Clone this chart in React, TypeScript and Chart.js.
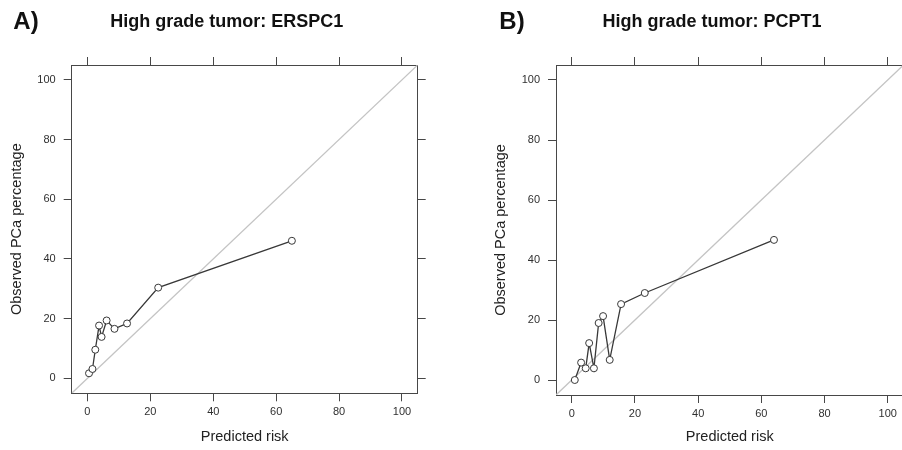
import React, { useEffect, useRef } from "react";
import { Chart, registerables } from "chart.js";

Chart.register(...registerables);

// ---------- data ----------
const tickValues = [0, 20, 40, 60, 80, 100];
const axisLimits = [-5, 105];
const diagonalValues = [-5, 105];

const titleA = "High grade tumor: ERSPC1";
const tagA = "A)";
const riskA = [0.5, 1.6, 2.5, 3.7, 4.5, 6.1, 8.6, 12.6, 22.5, 65.0];
const observedA = [1.7, 3.15, 9.6, 17.7, 13.9, 19.4, 16.6, 18.4, 30.4, 46.1];

const titleB = "High grade tumor: PCPT1";
const tagB = "B)";
const riskB = [0.95, 2.95, 4.4, 5.5, 7.0, 8.5, 9.9, 12.0, 15.6, 23.1, 64.0];
const observedB = [0.0, 5.8, 3.9, 12.3, 3.9, 19.0, 21.3, 6.7, 25.3, 29.0, 46.7];

const xAxisTitle = "Predicted risk";
const yAxisTitle = "Observed PCa percentage";

// ---------- styling ----------
const FONT = '"Liberation Sans", Arial, Helvetica, sans-serif';
const AXIS_COLOR = "#474747";
const TEXT_COLOR = "#303030";
const LINE_COLOR = "#383838";
const DIAG_COLOR = "#c4c4c4";

type Layout = {
  left: number;
  width: number;
  height: number;
  yWidth: number;
  y2Width: number;
  topHeight: number;
  bottomHeight: number;
  yTitlePad: number;
  tagX: number;
  titleX: number;
  textY: number;
};

const layoutA: Layout = {
  left: 0,
  width: 451,
  height: 450,
  yWidth: 71.7,
  y2Width: 33.3,
  topHeight: 65,
  bottomHeight: 56.7,
  yTitlePad: 8.3,
  tagX: 13.3,
  titleX: 226.7,
  textY: 22.5,
};

const layoutB: Layout = {
  left: 451,
  width: 500,
  height: 450,
  yWidth: 105,
  y2Width: 47.5,
  topHeight: 65,
  bottomHeight: 55,
  yTitlePad: 41.3,
  tagX: 48.3,
  titleX: 261,
  textY: 22.5,
};

const panelTextPlugin = {
  id: "panelText",
  afterDraw(chart: any, _args: any, opts: any) {
    const ctx = chart.ctx;
    ctx.save();
    ctx.fillStyle = "#111";
    ctx.textBaseline = "middle";
    ctx.textAlign = "left";
    ctx.font = `bold 24px ${FONT}`;
    ctx.fillText(opts.tag, opts.tagX, opts.textY);
    ctx.textAlign = "center";
    ctx.font = `bold 18px ${FONT}`;
    ctx.fillText(opts.title, opts.titleX, opts.textY);
    ctx.restore();
  },
};

function setTicks(scale: any) {
  scale.ticks = tickValues.map((v) => ({ value: v }));
}

function makeScale(
  position: string,
  axis: string,
  showLabels: boolean,
  size: number,
  title: any
) {
  const horizontal = position === "top" || position === "bottom";
  return {
    type: "linear",
    axis,
    position,
    min: axisLimits[0],
    max: axisLimits[1],
    afterBuildTicks: setTicks,
    afterFit: (s: any) => {
      if (horizontal) s.height = size;
      else s.width = size;
    },
    ticks: {
      display: showLabels,
      font: { family: FONT, size: 11 },
      color: TEXT_COLOR,
      padding: horizontal ? 4 : 8,
      maxRotation: 0,
      minRotation: 0,
      autoSkip: false,
    },
    grid: {
      display: true,
      drawOnChartArea: false,
      drawTicks: true,
      tickLength: 8,
      color: AXIS_COLOR,
      tickColor: AXIS_COLOR,
      lineWidth: 1,
    },
    border: { display: true, color: AXIS_COLOR, width: 1 },
    title: title || { display: false },
  };
}

function Panel(props: {
  layout: Layout;
  title: string;
  tag: string;
  risk: number[];
  observed: number[];
}) {
  const ref = useRef<HTMLCanvasElement | null>(null);
  const { layout, title, tag, risk, observed } = props;

  useEffect(() => {
    if (!ref.current) return;
    const points = risk.map((r, i) => ({ x: r, y: observed[i] }));
    const diag = diagonalValues.map((v) => ({ x: v, y: v }));
    const chart = new Chart(ref.current, {
      type: "scatter",
      data: {
        datasets: [
          {
            data: points,
            showLine: true,
            borderColor: LINE_COLOR,
            borderWidth: 1.3,
            pointRadius: 3.5,
            pointBorderWidth: 1,
            pointBorderColor: LINE_COLOR,
            pointBackgroundColor: "#ffffff",
            pointStyle: "circle",
            order: 0,
          },
          {
            data: diag,
            showLine: true,
            borderColor: DIAG_COLOR,
            borderWidth: 1.3,
            pointRadius: 0,
            order: 1,
          },
        ],
      } as any,
      options: {
        animation: false,
        responsive: false,
        maintainAspectRatio: false,
        layout: { padding: 0 },
        events: [],
        plugins: {
          legend: { display: false },
          tooltip: { enabled: false },
          title: { display: false },
          panelText: {
            tag,
            title,
            tagX: layout.tagX,
            titleX: layout.titleX,
            textY: layout.textY,
          },
        } as any,
        scales: {
          x: makeScale("bottom", "x", true, layout.bottomHeight, {
            display: true,
            text: xAxisTitle,
            color: "#222",
            font: { family: FONT, size: 14.5 },
            padding: { top: 0, bottom: 4 },
          }),
          x2: makeScale("top", "x", false, layout.topHeight, null),
          y: makeScale("left", "y", true, layout.yWidth, {
            display: true,
            text: yAxisTitle,
            color: "#222",
            font: { family: FONT, size: 14.5 },
            padding: { top: layout.yTitlePad, bottom: 0 },
          }),
          y2: makeScale("right", "y", false, layout.y2Width, null),
        } as any,
      },
      plugins: [panelTextPlugin as any],
    });
    return () => chart.destroy();
  }, [layout, title, tag, risk, observed]);

  return (
    <canvas
      ref={ref}
      width={layout.width}
      height={layout.height}
      style={{
        position: "absolute",
        left: layout.left,
        top: 0,
        width: layout.width,
        height: layout.height,
      }}
    />
  );
}

export default function App() {
  return (
    <div
      style={{
        position: "fixed",
        left: 0,
        top: 0,
        width: 902,
        height: 450,
        overflow: "hidden",
        background: "#ffffff",
      }}
    >
      <Panel layout={layoutA} title={titleA} tag={tagA} risk={riskA} observed={observedA} />
      <Panel layout={layoutB} title={titleB} tag={tagB} risk={riskB} observed={observedB} />
    </div>
  );
}
